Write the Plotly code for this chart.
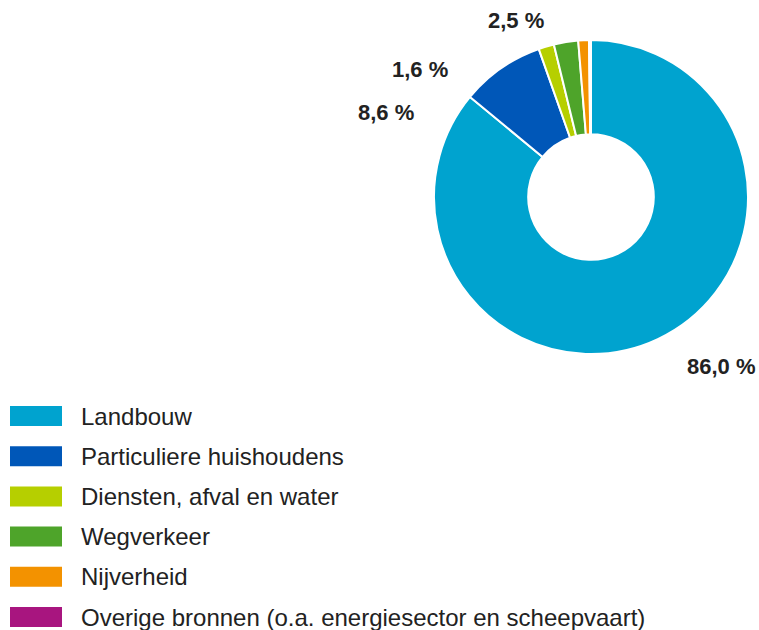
import plotly.graph_objects as go

# Emission shares by source (%)
sources = [
    "Landbouw",
    "Particuliere huishoudens",
    "Diensten, afval en water",
    "Wegverkeer",
    "Nijverheid",
    "Overige bronnen (o.a. energiesector en scheepvaart)",
]
shares = [86.0, 8.6, 1.6, 2.5, 1.1, 0.2]
colors = ["#00a3cf", "#0057b8", "#b6cf00", "#4ea42a", "#f39200", "#a8157f"]

# Which slices get a value label, and where that label sits (paper coords)
labelled = [0, 1, 2, 3]
label_pos = {0: (0.951, 0.419), 1: (0.508, 0.822), 2: (0.553, 0.889), 3: (0.680, 0.968)}

W, H = 759, 630

fig = go.Figure()
fig.add_trace(go.Pie(
    labels=sources,
    values=shares,
    sort=False,
    direction="clockwise",
    rotation=0,
    hole=0.40,
    marker=dict(colors=colors, line=dict(color="white", width=2)),
    textinfo="none",
    hoverinfo="label+percent",
    showlegend=False,
    domain=dict(x=[434 / W, 748 / W], y=[1 - 354 / H, 1 - 40 / H]),
))

annotations = []
for i in labelled:
    x, y = label_pos[i]
    annotations.append(dict(
        x=x, y=y, xref="paper", yref="paper", showarrow=False,
        text=f"<b>{shares[i]:.1f} %</b>".replace(".", ","),
        font=dict(family="Liberation Sans, Arial, sans-serif", size=22, color="#222222"),
        xanchor="center", yanchor="middle",
    ))

# Legend drawn as wide colour swatches with labels
shapes = []
row_top = 406
row_step = 40.2
for k, (name, col) in enumerate(zip(sources, colors)):
    y0 = row_top + k * row_step
    shapes.append(dict(
        type="rect", xref="paper", yref="paper",
        x0=10 / W, x1=62 / W, y0=1 - (y0 + 20) / H, y1=1 - y0 / H,
        fillcolor=col, line=dict(width=0),
    ))
    annotations.append(dict(
        x=79 / W, y=1 - (y0 + 10) / H, xref="paper", yref="paper",
        showarrow=False, text=name, xanchor="left", yanchor="middle",
        font=dict(family="Liberation Sans, Arial, sans-serif", size=24, color="#222222"),
    ))

fig.update_layout(
    width=W, height=H,
    margin=dict(l=0, r=0, t=0, b=0),
    paper_bgcolor="white",
    plot_bgcolor="white",
    annotations=annotations,
    shapes=shapes,
)

fig.write_html("out.html")
